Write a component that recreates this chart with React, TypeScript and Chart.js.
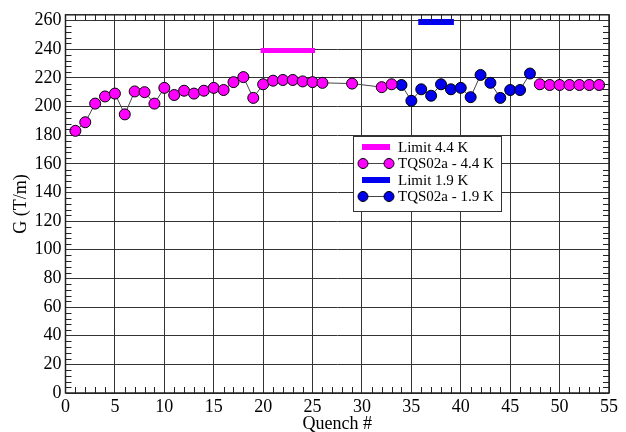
import { useEffect, useRef } from "react";
import { Chart, registerables } from "chart.js";

Chart.register(...registerables);

// ---- data ----
const quench44 = [1, 2, 3, 4, 5, 6, 7, 8, 9, 10, 11, 12, 13, 14, 15, 16, 17, 18, 19, 20, 21, 22, 23, 24, 25, 26, 29, 32, 33, 48, 49, 50, 51, 52, 53, 54];
const g44 = [183, 189, 202, 207, 209, 194.5, 210.5, 210, 202, 213, 208, 211, 209, 211, 213, 211.5, 217, 220.5, 206, 215.5, 218, 218.5, 218.5, 217.5, 217, 216.5, 216, 213.5, 215.5, 215.5, 215, 215, 215, 215, 215, 215];
const quench19 = [34, 35, 36, 37, 38, 39, 40, 41, 42, 43, 44, 45, 46, 47];
const g19 = [215, 204, 212, 207.5, 215.5, 212, 213, 206.5, 222, 216.5, 206, 211.5, 211.5, 223];
const limit44X = [20, 25];
const limit44G = 239;
const limit19X = [36, 39];
const limit19G = 259;
const xTicks = [0, 5, 10, 15, 20, 25, 30, 35, 40, 45, 50, 55];
const yTicks = [0, 20, 40, 60, 80, 100, 120, 140, 160, 180, 200, 220, 240, 260];
const legendLabels = ["Limit 4.4 K", "TQS02a - 4.4 K", "Limit 1.9 K", "TQS02a - 1.9 K"];

const MAGENTA = "#ff00ff";
const BLUE = "#0000ee";
const LINE = "#444";
const GRID = "#333";
const FONT_FAMILY = "'Liberation Serif', 'Times New Roman', serif";

const decorPlugin = {
  id: "decor",
  afterDraw(chart: any) {
    const { ctx, chartArea } = chart;
    const { left, right, top, bottom } = chartArea;
    const xs = chart.scales.x;
    const ys = chart.scales.y;
    ctx.save();
    // minor ticks
    ctx.strokeStyle = "#222";
    ctx.lineWidth = 1;
    ctx.beginPath();
    for (let v = 1; v < 55; v++) {
      if (v % 5 === 0) continue;
      const px = Math.round(xs.getPixelForValue(v)) + 0.5;
      ctx.moveTo(px, bottom);
      ctx.lineTo(px, bottom - 6);
      ctx.moveTo(px, top);
      ctx.lineTo(px, top + 6);
    }
    for (let v = 4; v < 264; v += 4) {
      if (v % 20 === 0) continue;
      const py = Math.round(ys.getPixelForValue(v)) + 0.5;
      ctx.moveTo(left, py);
      ctx.lineTo(left + 6, py);
      ctx.moveTo(right, py);
      ctx.lineTo(right - 6, py);
    }
    ctx.stroke();
    // frame
    ctx.strokeStyle = "#222";
    ctx.lineWidth = 1.5;
    ctx.strokeRect(left, top, right - left, bottom - top);

    // legend
    const bx = 353.5, by = 136.5, bw = 148, bh = 75;
    ctx.fillStyle = "#fff";
    ctx.fillRect(bx, by, bw, bh);
    ctx.strokeStyle = "#333";
    ctx.lineWidth = 1;
    ctx.strokeRect(bx, by, bw, bh);
    const rowY = [147, 163.5, 180, 196.5];
    const colors = [MAGENTA, MAGENTA, BLUE, BLUE];
    const sx0 = 363, sx1 = 389;
    ctx.font = `15px ${FONT_FAMILY}`;
    ctx.textBaseline = "middle";
    ctx.textAlign = "left";
    legendLabels.forEach((label, i) => {
      const y = rowY[i];
      if (i % 2 === 0) {
        ctx.fillStyle = colors[i];
        ctx.fillRect(sx0 - 1, y - 3, sx1 - sx0 + 2, 6);
      } else {
        ctx.strokeStyle = LINE;
        ctx.lineWidth = 1;
        ctx.beginPath();
        ctx.moveTo(sx0, y);
        ctx.lineTo(sx1, y);
        ctx.stroke();
        [sx0, sx1].forEach((cx) => {
          ctx.beginPath();
          ctx.arc(cx, y, 5, 0, Math.PI * 2);
          ctx.fillStyle = colors[i];
          ctx.fill();
          ctx.strokeStyle = "#000";
          ctx.stroke();
        });
      }
      ctx.fillStyle = "#000";
      ctx.fillText(label, 398, y + 1);
    });
    ctx.restore();
  },
};

export default function App() {
  const ref = useRef<HTMLCanvasElement>(null);
  useEffect(() => {
    if (!ref.current) return;
    const font = { family: FONT_FAMILY, size: 18 };
    const chart = new Chart(ref.current, {
      type: "line",
      data: {
        datasets: [
          {
            label: legendLabels[0],
            data: limit44X.map((x) => ({ x, y: limit44G })),
            borderColor: MAGENTA,
            borderWidth: 5,
            borderCapStyle: "square",
            pointRadius: 0,
          },
          {
            label: legendLabels[2],
            data: limit19X.map((x) => ({ x, y: limit19G })),
            borderColor: BLUE,
            borderWidth: 6,
            borderCapStyle: "square",
            pointRadius: 0,
          },
          {
            label: legendLabels[1],
            data: quench44.map((x, i) => ({ x, y: g44[i] })),
            borderColor: LINE,
            borderWidth: 1,
            pointRadius: 5.5,
            pointBackgroundColor: MAGENTA,
            pointBorderColor: "#000",
            pointBorderWidth: 1,
            segment: {
              borderColor: (c: any) => (c.p1.parsed.x - c.p0.parsed.x > 5 ? "rgba(0,0,0,0)" : LINE),
            },
          },
          {
            label: legendLabels[3],
            data: quench19.map((x, i) => ({ x, y: g19[i] })),
            borderColor: LINE,
            borderWidth: 1,
            pointRadius: 5.5,
            pointBackgroundColor: BLUE,
            pointBorderColor: "#000",
            pointBorderWidth: 1,
          },
        ],
      } as any,
      options: {
        animation: false,
        responsive: true,
        maintainAspectRatio: false,
        layout: { padding: { left: 0, right: 17, top: 10, bottom: 0 } },
        plugins: { legend: { display: false }, tooltip: { enabled: false } },
        scales: {
          x: {
            type: "linear",
            min: 0,
            max: 55,
            afterBuildTicks: (s: any) => {
              s.ticks = xTicks.map((v) => ({ value: v }));
            },
            afterFit: (s: any) => {
              s.height = 39;
            },
            ticks: { font, color: "#000", padding: 3, maxRotation: 0, autoSkip: false },
            grid: { color: GRID, lineWidth: 1, drawTicks: false },
            border: { display: false },
            title: { display: true, text: "Quench #", font, color: "#000", padding: { top: -3, bottom: -3 } },
          },
          y: {
            type: "linear",
            min: 0,
            max: 264,
            afterBuildTicks: (s: any) => {
              s.ticks = yTicks.map((v) => ({ value: v }));
            },
            afterFit: (s: any) => {
              s.width = 65.5;
            },
            ticks: { font, color: "#000", padding: 4, autoSkip: false },
            grid: { color: GRID, lineWidth: 1, drawTicks: false },
            border: { display: false },
            title: { display: true, text: "G (T/m)", font, color: "#000", padding: { top: 10, bottom: 0 } },
          },
        },
      } as any,
      plugins: [decorPlugin],
    });
    return () => chart.destroy();
  }, []);
  return (
    <div style={{ position: "fixed", left: 0, top: 0, width: 626, height: 432, background: "#fff" }}>
      <canvas ref={ref} />
    </div>
  );
}
